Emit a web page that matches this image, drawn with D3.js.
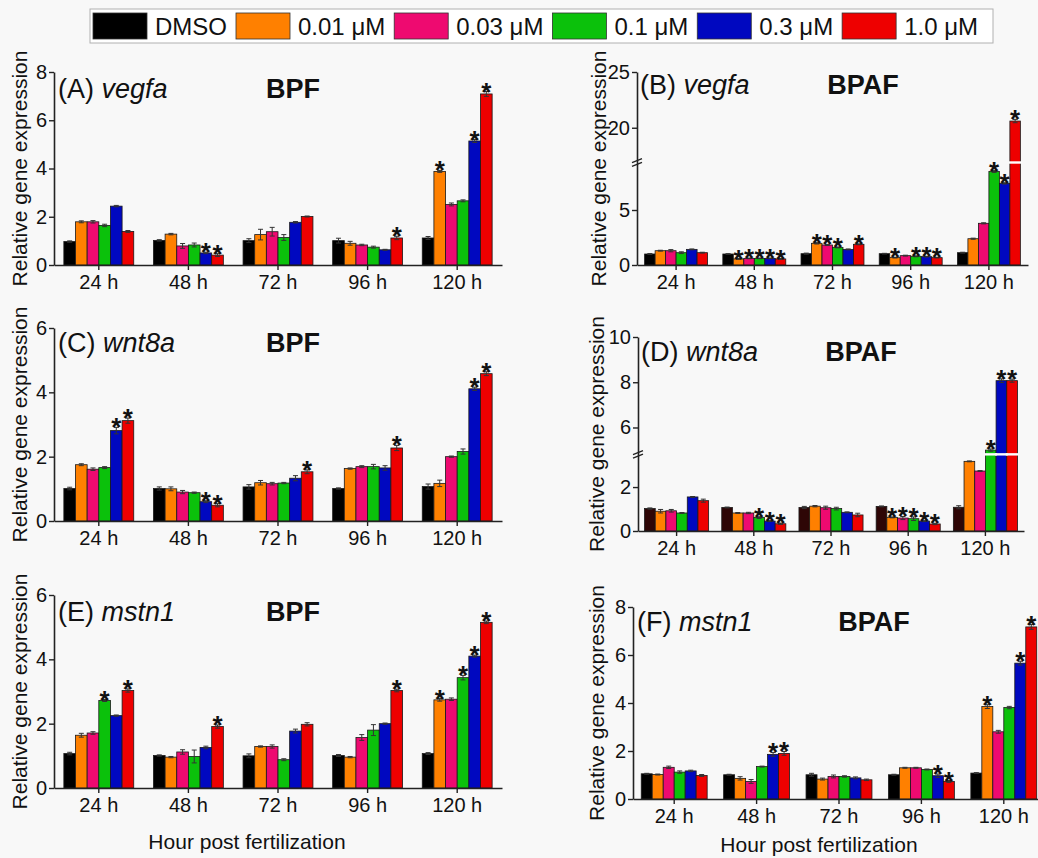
<!DOCTYPE html>
<html>
<head>
<meta charset="utf-8">
<script src="https://cdn.jsdelivr.net/npm/d3@7"></script>
<style>
  body { margin: 0; background: #f8f8f8; }
  svg { display: block; font-family: "Liberation Sans", Arial, sans-serif; }
</style>
</head>
<body>
<svg id="chart" width="1038" height="858"></svg>
<script>
// categories
var times = ["24 h", "48 h", "72 h", "96 h", "120 h"];
var doses = ["DMSO", "0.01 μM", "0.03 μM", "0.1 μM", "0.3 μM", "1.0 μM"];
var doseColors = ["#000000", "#ff8000", "#ee0a70", "#0bc10b", "#0008c0", "#ee0000"];

// values: one row per time point, one column per dose
var vegfaBPF = [
  [0.97, 1.79, 1.79, 1.64, 2.44, 1.39],
  [1.02, 1.28, 0.79, 0.83, 0.50, 0.41],
  [1.01, 1.26, 1.38, 1.14, 1.77, 2.01],
  [1.01, 0.90, 0.83, 0.74, 0.63, 1.12],
  [1.12, 3.88, 2.51, 2.66, 5.14, 7.09]
];
var vegfaBPFErr = [
  [0.03, 0.04, 0.05, 0.05, 0.03, 0.04],
  [0.03, 0.03, 0.10, 0.08, 0.03, 0.06],
  [0.08, 0.22, 0.18, 0.12, 0.03, 0.02],
  [0.10, 0.08, 0.03, 0.04, 0.02, 0.07],
  [0.06, 0.04, 0.06, 0.04, 0.06, 0.10]
];
var vegfaBPFSig = [[], [4, 5], [], [5], [1, 4, 5]];

var vegfaBPAF = [
  [1.00, 1.30, 1.30, 1.12, 1.42, 1.12],
  [1.00, 0.55, 0.60, 0.60, 0.60, 0.55],
  [1.03, 1.97, 1.82, 1.60, 1.42, 1.88],
  [1.03, 0.67, 0.85, 0.79, 0.76, 0.67],
  [1.12, 2.39, 3.79, 8.50, 7.42, 20.6]
];
var vegfaBPAFErr = [
  [0.04, 0.04, 0.10, 0.08, 0.04, 0.04],
  [0.03, 0.03, 0.03, 0.03, 0.03, 0.03],
  [0.05, 0.06, 0.05, 0.04, 0.04, 0.04],
  [0.03, 0.03, 0.04, 0.04, 0.03, 0.03],
  [0.04, 0.05, 0.05, 0.08, 0.06, 0.15]
];
var vegfaBPAFSig = [[], [1, 2, 3, 4, 5], [1, 2, 3, 5], [1, 3, 4, 5], [3, 4, 5]];

var wnt8aBPF = [
  [1.01, 1.75, 1.61, 1.66, 2.81, 3.12],
  [1.01, 1.00, 0.90, 0.88, 0.60, 0.49],
  [1.06, 1.19, 1.16, 1.18, 1.33, 1.53],
  [1.01, 1.63, 1.69, 1.69, 1.65, 2.27],
  [1.07, 1.17, 2.00, 2.16, 4.11, 4.58]
];
var wnt8aBPFErr = [
  [0.04, 0.03, 0.04, 0.03, 0.10, 0.08],
  [0.05, 0.06, 0.05, 0.02, 0.03, 0.05],
  [0.07, 0.07, 0.04, 0.02, 0.08, 0.06],
  [0.02, 0.02, 0.03, 0.07, 0.07, 0.08],
  [0.08, 0.10, 0.02, 0.08, 0.05, 0.06]
];
var wnt8aBPFSig = [[4, 5], [4, 5], [5], [5], [4, 5]];

var wnt8aBPAF = [
  [1.02, 0.90, 0.92, 0.82, 1.55, 1.38],
  [1.07, 0.82, 0.82, 0.61, 0.45, 0.33],
  [1.07, 1.13, 1.06, 1.02, 0.85, 0.73],
  [1.12, 0.62, 0.59, 0.56, 0.45, 0.32],
  [1.08, 3.17, 2.73, 5.00, 8.07, 8.07]
];
var wnt8aBPAFErr = [
  [0.03, 0.08, 0.06, 0.02, 0.02, 0.07],
  [0.02, 0.02, 0.03, 0.04, 0.02, 0.03],
  [0.05, 0.03, 0.07, 0.06, 0.02, 0.08],
  [0.02, 0.02, 0.07, 0.08, 0.02, 0.03],
  [0.07, 0.02, 0.02, 0.05, 0.08, 0.07]
];
var wnt8aBPAFSig = [[], [3, 4, 5], [], [1, 2, 3, 4, 5], [3, 4, 5]];

var mstn1BPF = [
  [1.07, 1.64, 1.71, 2.72, 2.25, 3.03],
  [1.01, 0.96, 1.12, 0.98, 1.26, 1.91],
  [1.00, 1.29, 1.29, 0.88, 1.77, 1.98],
  [1.01, 0.96, 1.57, 1.80, 2.00, 3.03],
  [1.07, 2.74, 2.76, 3.43, 4.10, 5.15]
];
var mstn1BPFErr = [
  [0.04, 0.06, 0.04, 0.03, 0.02, 0.05],
  [0.02, 0.02, 0.07, 0.20, 0.04, 0.05],
  [0.06, 0.02, 0.05, 0.03, 0.06, 0.05],
  [0.03, 0.02, 0.09, 0.17, 0.02, 0.04],
  [0.03, 0.04, 0.04, 0.07, 0.03, 0.04]
];
var mstn1BPFSig = [[3, 5], [5], [], [5], [1, 3, 4, 5]];

var mstn1BPAF = [
  [1.05, 1.02, 1.32, 1.12, 1.17, 0.98],
  [1.01, 0.86, 0.73, 1.35, 1.86, 1.90],
  [1.01, 0.83, 0.94, 0.94, 0.88, 0.80],
  [1.01, 1.30, 1.30, 1.23, 0.97, 0.73],
  [1.08, 3.85, 2.80, 3.81, 5.66, 7.17]
];
var mstn1BPAFErr = [
  [0.02, 0.02, 0.05, 0.05, 0.03, 0.04],
  [0.02, 0.07, 0.08, 0.02, 0.08, 0.08],
  [0.06, 0.04, 0.06, 0.03, 0.04, 0.03],
  [0.02, 0.02, 0.02, 0.02, 0.07, 0.04],
  [0.02, 0.08, 0.06, 0.05, 0.08, 0.10]
];
var mstn1BPAFSig = [[], [4, 5], [], [4, 5], [1, 4, 5]];

// panel layout
var panels = [
  { tag: "(A) ", gene: "vegfa", comp: "BPF", vals: vegfaBPF, err: vegfaBPFErr, sig: vegfaBPFSig,
    xr: [54, 502], pad: 0.22, yd: [0, 8], yr: [265, 72], ticks: [0, 2, 4, 6, 8],
    titleX: 20, labX: 58, labY: 98, compX: 293, dmso: "#000000" },
  { tag: "(B) ", gene: "vegfa", comp: "BPAF", vals: vegfaBPAF, err: vegfaBPAFErr, sig: vegfaBPAFSig,
    xr: [637, 1028], pad: 0.195, yd: [0, 9.2, 17, 25], yr: [265, 163.8, 161.2, 72], ticks: [0, 5, 20, 25],
    brk: 9.2, titleX: 599, labX: 640, labY: 94, compX: 863, dmso: "#000000" },
  { tag: "(C) ", gene: "wnt8a", comp: "BPF", vals: wnt8aBPF, err: wnt8aBPFErr, sig: wnt8aBPFSig,
    xr: [54, 502], pad: 0.22, yd: [0, 6], yr: [521, 328], ticks: [0, 2, 4, 6],
    titleX: 20, labX: 58, labY: 352, compX: 293, dmso: "#000000" },
  { tag: "(D) ", gene: "wnt8a", comp: "BPAF", vals: wnt8aBPAF, err: wnt8aBPAFErr, sig: wnt8aBPAFSig,
    xr: [638, 1024], pad: 0.17, yd: [0, 3.45, 4.85, 10], yr: [531, 455.2, 453.5, 337], ticks: [0, 2, 6, 8, 10],
    brk: 3.45, titleX: 597, labX: 641, labY: 361, compX: 861, dmso: "#2e0606" },
  { tag: "(E) ", gene: "mstn1", comp: "BPF", vals: mstn1BPF, err: mstn1BPFErr, sig: mstn1BPFSig,
    xr: [54, 502], pad: 0.22, yd: [0, 6], yr: [788, 595], ticks: [0, 2, 4, 6],
    titleX: 20, labX: 58, labY: 621, compX: 293, dmso: "#000000", xTitleX: 247, xTitleY: 849 },
  { tag: "(F) ", gene: "mstn1", comp: "BPAF", vals: mstn1BPAF, err: mstn1BPAFErr, sig: mstn1BPAFSig,
    xr: [633, 1045], pad: 0.2, yd: [0, 8], yr: [799, 607], ticks: [0, 2, 4, 6, 8],
    titleX: 597, labX: 637, labY: 631, compX: 874, dmso: "#000000", xTitleX: 819, xTitleY: 852 }
];

var svg = d3.select("#chart");
svg.append("rect").attr("width", 1038).attr("height", 858).attr("fill", "#f8f8f8");

// legend
var lg = svg.append("g");
lg.append("rect")
  .attr("x", 90).attr("y", 9).attr("width", 903).attr("height", 34)
  .attr("fill", "#ffffff").attr("stroke", "#b0b0b0").attr("stroke-width", 1);
var lx = 93;
doses.forEach(function (d, i) {
  lg.append("rect")
    .attr("x", lx).attr("y", 13).attr("width", 54).attr("height", 26)
    .attr("fill", doseColors[i]).attr("stroke", "#333").attr("stroke-width", 0.8);
  lx += 54 + 8;
  var t = lg.append("text")
    .attr("x", lx).attr("y", 35)
    .attr("font-size", 24).attr("fill", "#111")
    .text(d);
  lx += t.node().getComputedTextLength() + 9;
});

panels.forEach(function (p) {
  var g = svg.append("g");

  var x0 = d3.scaleBand().domain(times).range(p.xr)
    .paddingInner(p.pad).paddingOuter(p.pad / 2);
  var x1 = d3.scaleBand().domain(d3.range(doses.length)).range([0, x0.bandwidth()]);
  var y = d3.scaleLinear().domain(p.yd).range(p.yr);

  var rows = [];
  p.vals.forEach(function (row, ti) {
    row.forEach(function (v, di) {
      rows.push({ t: times[ti], d: di, v: v, e: p.err[ti][di], sig: p.sig[ti].indexOf(di) >= 0 });
    });
  });

  // bars
  g.selectAll("rect.bar").data(rows).enter().append("rect")
    .attr("class", "bar")
    .attr("x", function (d) { return x0(d.t) + x1(d.d); })
    .attr("width", x1.bandwidth())
    .attr("y", function (d) { return y(d.v); })
    .attr("height", function (d) { return y(0) - y(d.v); })
    .attr("fill", function (d) { return d.d === 0 ? p.dmso : doseColors[d.d]; })
    .attr("stroke", "#1a1a1a").attr("stroke-width", 0.8);

  // error bars
  var eb = g.selectAll("g.err").data(rows).enter().append("g")
    .attr("stroke", "#333").attr("stroke-width", 1);
  eb.append("line")
    .attr("x1", function (d) { return x0(d.t) + x1(d.d) + x1.bandwidth() / 2; })
    .attr("x2", function (d) { return x0(d.t) + x1(d.d) + x1.bandwidth() / 2; })
    .attr("y1", function (d) { return y(d.v - d.e); })
    .attr("y2", function (d) { return y(d.v + d.e); });
  eb.append("line")
    .attr("x1", function (d) { return x0(d.t) + x1(d.d) + x1.bandwidth() / 2 - 2.5; })
    .attr("x2", function (d) { return x0(d.t) + x1(d.d) + x1.bandwidth() / 2 + 2.5; })
    .attr("y1", function (d) { return y(d.v + d.e); })
    .attr("y2", function (d) { return y(d.v + d.e); });
  eb.append("line")
    .attr("x1", function (d) { return x0(d.t) + x1(d.d) + x1.bandwidth() / 2 - 2.5; })
    .attr("x2", function (d) { return x0(d.t) + x1(d.d) + x1.bandwidth() / 2 + 2.5; })
    .attr("y1", function (d) { return y(d.v - d.e); })
    .attr("y2", function (d) { return y(d.v - d.e); });

  // break gap drawn across tall bars
  if (p.brk !== undefined) {
    var by = (p.yr[1] + p.yr[2]) / 2;
    g.selectAll("rect.gap").data(rows.filter(function (d) { return d.v > p.brk; })).enter()
      .append("rect")
      .attr("x", function (d) { return x0(d.t) + x1(d.d) - 1; })
      .attr("width", x1.bandwidth() + 2)
      .attr("y", by - 1.2).attr("height", 2.4)
      .attr("fill", "#ffffff");
  }

  // significance stars
  g.selectAll("text.star").data(rows.filter(function (d) { return d.sig; })).enter()
    .append("text")
    .attr("x", function (d) { return x0(d.t) + x1(d.d) + x1.bandwidth() / 2; })
    .attr("y", function (d) { return y(d.v + d.e) + 9; })
    .attr("text-anchor", "middle")
    .attr("font-size", 26).attr("font-weight", "bold").attr("fill", "#111")
    .text("*");

  // axes
  var ax = g.append("g")
    .attr("transform", "translate(0," + y(0) + ")")
    .call(d3.axisBottom(x0).tickSize(5).tickSizeOuter(0).tickPadding(5));
  ax.select(".domain").attr("stroke-width", 1.6).attr("stroke", "#222");
  ax.selectAll(".tick line").attr("stroke-width", 1.4).attr("stroke", "#222");
  ax.selectAll("text").attr("font-size", 20).attr("fill", "#111")
    .attr("font-family", "Liberation Sans, Arial, sans-serif");

  var ay = g.append("g")
    .attr("transform", "translate(" + p.xr[0] + ",0)")
    .call(d3.axisLeft(y).tickValues(p.ticks).tickSize(5).tickSizeOuter(0).tickPadding(2)
      .tickFormat(d3.format("d")));
  ay.select(".domain").attr("stroke-width", 1.6).attr("stroke", "#222");
  ay.selectAll(".tick line").attr("stroke-width", 1.4).attr("stroke", "#222");
  ay.selectAll("text").attr("font-size", 20).attr("fill", "#111")
    .attr("font-family", "Liberation Sans, Arial, sans-serif");

  if (p.brk !== undefined) {
    var yb = (p.yr[1] + p.yr[2]) / 2;
    [-1.8, 1.8].forEach(function (o) {
      g.append("line")
        .attr("x1", p.xr[0] - 5).attr("x2", p.xr[0] + 5)
        .attr("y1", yb + o + 2).attr("y2", yb + o - 2)
        .attr("stroke", "#222").attr("stroke-width", 1.4);
    });
  }

  // y title
  g.append("text")
    .attr("transform", "translate(" + p.titleX + "," + ((p.yr[0] + p.yr[p.yr.length - 1]) / 2) + ") rotate(-90)")
    .attr("text-anchor", "middle").attr("dy", "0.35em")
    .attr("font-size", 21).attr("fill", "#111")
    .text("Relative gene expression");

  // panel label
  var lab = g.append("text")
    .attr("x", p.labX).attr("y", p.labY)
    .attr("font-size", 27).attr("fill", "#111");
  lab.append("tspan").text(p.tag);
  lab.append("tspan").attr("font-style", "italic").text(p.gene);

  g.append("text")
    .attr("x", p.compX).attr("y", p.labY)
    .attr("text-anchor", "middle")
    .attr("font-size", 27).attr("font-weight", "bold").attr("fill", "#111")
    .text(p.comp);

  if (p.xTitleX) {
    g.append("text")
      .attr("x", p.xTitleX).attr("y", p.xTitleY)
      .attr("text-anchor", "middle")
      .attr("font-size", 21).attr("fill", "#111")
      .text("Hour post fertilization");
  }
});
</script>
</body>
</html>
